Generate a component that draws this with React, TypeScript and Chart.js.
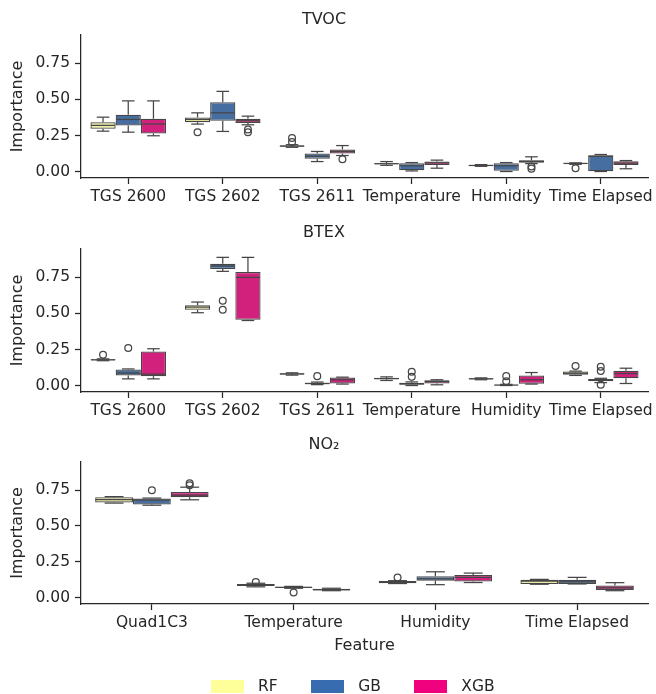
import React, { useEffect, useRef } from "react";
import { Chart, registerables } from "chart.js";

Chart.register(...registerables);

// ---------- data ----------
const seriesNames = ["RF", "GB", "XGB"];
const legendColors = ["#ffff99", "#386cb0", "#f0027f"];
const boxColors = ["#f2f2a6", "#476ea1", "#d2207d"];
const lineColor = "#464646";
const textColor = "#262626";
const yTicks = [0, 0.25, 0.5, 0.75];
const yMin = -0.045;
const yMax = 0.947;

// five-number summaries per category: [whiskerLow, q1, median, q3, whiskerHigh]
const tvocCategories = ["TGS 2600", "TGS 2602", "TGS 2611", "Temperature", "Humidity", "Time Elapsed"];
const tvocRF = [
  [0.28, 0.296, 0.32, 0.342, 0.377],
  [0.329, 0.342, 0.361, 0.375, 0.407],
  [0.168, 0.172, 0.177, 0.181, 0.186],
  [0.043, 0.05, 0.054, 0.058, 0.069],
  [0.036, 0.039, 0.042, 0.045, 0.048],
  [0.05, 0.053, 0.056, 0.058, 0.06],
];
const tvocRFOutliers = [[], [0.273], [0.232, 0.205], [], [], [0.022]];
const tvocGB = [
  [0.273, 0.32, 0.361, 0.394, 0.49],
  [0.278, 0.352, 0.407, 0.481, 0.556],
  [0.069, 0.088, 0.106, 0.125, 0.139],
  [0.004, 0.009, 0.04, 0.058, 0.062],
  [0.0, 0.005, 0.04, 0.058, 0.062],
  [0.0, 0.002, 0.105, 0.113, 0.118],
];
const tvocGBOutliers = [[], [], [], [], [], []];
const tvocXGB = [
  [0.248, 0.264, 0.329, 0.366, 0.49],
  [0.324, 0.336, 0.352, 0.366, 0.384],
  [0.111, 0.125, 0.139, 0.153, 0.18],
  [0.023, 0.046, 0.06, 0.069, 0.079],
  [0.055, 0.06, 0.07, 0.078, 0.102],
  [0.019, 0.045, 0.058, 0.072, 0.076],
];
const tvocXGBOutliers = [[], [0.292, 0.272], [0.085], [], [0.035, 0.02], []];

const btexCategories = ["TGS 2600", "TGS 2602", "TGS 2611", "Temperature", "Humidity", "Time Elapsed"];
const btexRF = [
  [0.172, 0.175, 0.178, 0.182, 0.185],
  [0.505, 0.525, 0.544, 0.556, 0.579],
  [0.072, 0.076, 0.08, 0.085, 0.088],
  [0.035, 0.043, 0.048, 0.053, 0.06],
  [0.04, 0.043, 0.046, 0.05, 0.053],
  [0.07, 0.074, 0.085, 0.097, 0.1],
];
const btexRFOutliers = [[0.213], [], [], [], [], [0.135]];
const btexGB = [
  [0.046, 0.069, 0.086, 0.111, 0.115],
  [0.792, 0.808, 0.829, 0.845, 0.889],
  [0.006, 0.009, 0.014, 0.02, 0.024],
  [0.0, 0.005, 0.012, 0.02, 0.025],
  [0.0, 0.001, 0.003, 0.005, 0.008],
  [0.02, 0.03, 0.04, 0.045, 0.05],
];
const btexGBOutliers = [[0.26], [0.588, 0.525], [0.065], [0.095, 0.06], [0.065, 0.03], [0.13, 0.1, 0.005]];
const btexXGB = [
  [0.046, 0.065, 0.079, 0.236, 0.255],
  [0.451, 0.456, 0.75, 0.787, 0.889],
  [0.01, 0.014, 0.04, 0.056, 0.058],
  [0.005, 0.014, 0.028, 0.037, 0.04],
  [0.01, 0.012, 0.04, 0.069, 0.09],
  [0.014, 0.051, 0.083, 0.102, 0.12],
];
const btexXGBOutliers = [[], [], [], [], [], []];

const no2Categories = ["Quad1C3", "Temperature", "Humidity", "Time Elapsed"];
const no2RF = [
  [0.66, 0.664, 0.685, 0.701, 0.705],
  [0.075, 0.08, 0.087, 0.095, 0.1],
  [0.098, 0.1, 0.108, 0.115, 0.118],
  [0.093, 0.095, 0.115, 0.125, 0.127],
];
const no2RFOutliers = [[], [0.109], [0.14], []];
const no2GB = [
  [0.645, 0.65, 0.68, 0.692, 0.695],
  [0.065, 0.068, 0.072, 0.075, 0.078],
  [0.09, 0.118, 0.13, 0.148, 0.18],
  [0.095, 0.095, 0.11, 0.125, 0.141],
];
const no2GBOutliers = [[0.75], [0.035], [], []];
const no2XGB = [
  [0.683, 0.701, 0.715, 0.738, 0.771],
  [0.048, 0.05, 0.055, 0.062, 0.065],
  [0.105, 0.113, 0.141, 0.157, 0.171],
  [0.048, 0.053, 0.067, 0.085, 0.104],
];
const no2XGBOutliers = [[0.799, 0.785], [], [], []];

// ---------- drawing ----------
const FONT = "DejaVu Sans";

const boxPlugin = {
  id: "boxWhiskers",
  afterDatasetsDraw(chart: any) {
    const ctx = chart.ctx;
    const ys = chart.scales.y;
    const py = (v: number) => ys.getPixelForValue(v);
    chart.data.datasets.forEach((ds: any, di: number) => {
      const meta = chart.getDatasetMeta(di);
      meta.data.forEach((bar: any, i: number) => {
        const s = ds.stats[i];
        const { x, width } = bar.getProps(["x", "width"], true);
        const half = width / 2;
        const cap = width / 4;
        ctx.save();
        ctx.strokeStyle = lineColor;
        ctx.lineWidth = 1.25;
        ctx.lineCap = "butt";
        const seg = (x1: number, y1: number, x2: number, y2: number) => {
          ctx.beginPath();
          ctx.moveTo(x1, y1);
          ctx.lineTo(x2, y2);
          ctx.stroke();
        };
        seg(x, py(s[0]), x, py(s[1]));
        seg(x, py(s[3]), x, py(s[4]));
        seg(x - cap, py(s[0]), x + cap, py(s[0]));
        seg(x - cap, py(s[4]), x + cap, py(s[4]));
        seg(x - half + 0.6, py(s[2]), x + half - 0.6, py(s[2]));
        (ds.outliers[i] || []).forEach((o: number) => {
          ctx.beginPath();
          ctx.arc(x, py(o), 3.4, 0, Math.PI * 2);
          ctx.stroke();
        });
        ctx.restore();
      });
    });
  },
};

type PanelProps = {
  title: string;
  categories: string[];
  stats: number[][][];
  outliers: number[][][];
  height: number;
  titlePad: { top: number; bottom: number };
  xAxisHeight: number;
  bottomPad: number;
  xTitle?: string;
};

function Panel(p: PanelProps) {
  const ref = useRef<HTMLCanvasElement>(null);
  useEffect(() => {
    const canvas = ref.current!;
    const chart = new Chart(canvas, {
      type: "bar",
      data: {
        labels: p.categories,
        datasets: seriesNames.map((name, si) => ({
          label: name,
          data: p.stats[si].map((s) => [s[1], s[3]]),
          stats: p.stats[si],
          outliers: p.outliers[si],
          backgroundColor: boxColors[si],
          borderColor: lineColor,
          borderWidth: 1.25,
          borderSkipped: false,
          categoryPercentage: 0.8,
          barPercentage: 1.0,
        })) as any,
      },
      options: {
        animation: false,
        responsive: false,
        maintainAspectRatio: false,
        devicePixelRatio: 1,
        layout: { padding: { left: 0, right: 8, top: 0, bottom: p.bottomPad } },
        plugins: {
          legend: { display: false },
          tooltip: { enabled: false },
          title: {
            display: true,
            text: p.title,
            color: textColor,
            font: { family: FONT, size: 16, weight: "normal" as any },
            padding: p.titlePad,
          },
        },
        scales: {
          x: {
            type: "category",
            offset: true,
            grid: {
              display: true,
              drawOnChartArea: false,
              offset: false,
              tickLength: 6,
              tickWidth: 1.25,
              tickColor: textColor,
            },
            border: { display: true, color: textColor, width: 1.25 },
            ticks: {
              color: textColor,
              font: { family: FONT, size: 15.5 },
              padding: 4,
              autoSkip: false,
              maxRotation: 0,
              minRotation: 0,
            },
            title: {
              display: !!p.xTitle,
              text: p.xTitle || "",
              color: textColor,
              font: { family: FONT, size: 16 },
              padding: { top: 0, bottom: 8.2 },
            },
            afterFit: (s: any) => {
              s.height = p.xAxisHeight;
              s.paddingLeft = 0;
              s.paddingRight = 0;
            },
          } as any,
          y: {
            type: "linear",
            min: yMin,
            max: yMax,
            grid: {
              display: true,
              drawOnChartArea: false,
              tickLength: 6,
              tickWidth: 1.25,
              tickColor: textColor,
            },
            border: { display: true, color: textColor, width: 1.25 },
            ticks: {
              color: textColor,
              font: { family: FONT, size: 15.5 },
              padding: 5,
              callback: (v: any) => Number(v).toFixed(2),
            },
            afterBuildTicks: (s: any) => {
              s.ticks = yTicks.map((v) => ({ value: v }));
            },
            title: {
              display: true,
              text: "Importance",
              color: textColor,
              font: { family: FONT, size: 16 },
              padding: { top: 8, bottom: 0 },
            },
            afterFit: (s: any) => {
              s.width = 81;
              s.paddingTop = 0;
              s.paddingBottom = 0;
            },
          } as any,
        },
      },
      plugins: [boxPlugin],
    });
    return () => chart.destroy();
  }, []);
  return <canvas ref={ref} width={656} height={p.height} style={{ display: "block", width: 656, height: p.height }} />;
}

export default function App() {
  return (
    <div style={{ position: "absolute", left: 0, top: 0, width: 656, height: 694, background: "#fff", overflow: "hidden" }}>
      <div style={{ position: "absolute", left: 0, top: 0 }}>
        <Panel
          title="TVOC"
          categories={tvocCategories}
          stats={[tvocRF, tvocGB, tvocXGB]}
          outliers={[tvocRFOutliers, tvocGBOutliers, tvocXGBOutliers]}
          height={212}
          titlePad={{ top: 10.4, bottom: 5.4 }}
          xAxisHeight={34}
          bottomPad={0}
        />
      </div>
      <div style={{ position: "absolute", left: 0, top: 212 }}>
        <Panel
          title="BTEX"
          categories={btexCategories}
          stats={[btexRF, btexGB, btexXGB]}
          outliers={[btexRFOutliers, btexGBOutliers, btexXGBOutliers]}
          height={213}
          titlePad={{ top: 11.4, bottom: 6.4 }}
          xAxisHeight={33}
          bottomPad={0}
        />
      </div>
      <div style={{ position: "absolute", left: 0, top: 425 }}>
        <Panel
          title="NO₂"
          categories={no2Categories}
          stats={[no2RF, no2GB, no2XGB]}
          outliers={[no2RFOutliers, no2GBOutliers, no2XGBOutliers]}
          height={269}
          titlePad={{ top: 10.4, bottom: 7.4 }}
          xAxisHeight={60}
          bottomPad={30}
          xTitle="Feature"
        />
      </div>
      <div
        style={{
          position: "absolute",
          left: 211,
          top: 677,
          display: "flex",
          alignItems: "center",
          gap: 33.5,
          fontFamily: FONT,
          fontSize: 15.5,
          color: textColor,
          lineHeight: "18px",
        }}
      >
        {seriesNames.map((n, i) => (
          <div key={n} style={{ display: "flex", alignItems: "center" }}>
            <span style={{ display: "inline-block", width: 33, height: 13, background: legendColors[i], marginRight: 14 }} />
            <span>{n}</span>
          </div>
        ))}
      </div>
    </div>
  );
}
